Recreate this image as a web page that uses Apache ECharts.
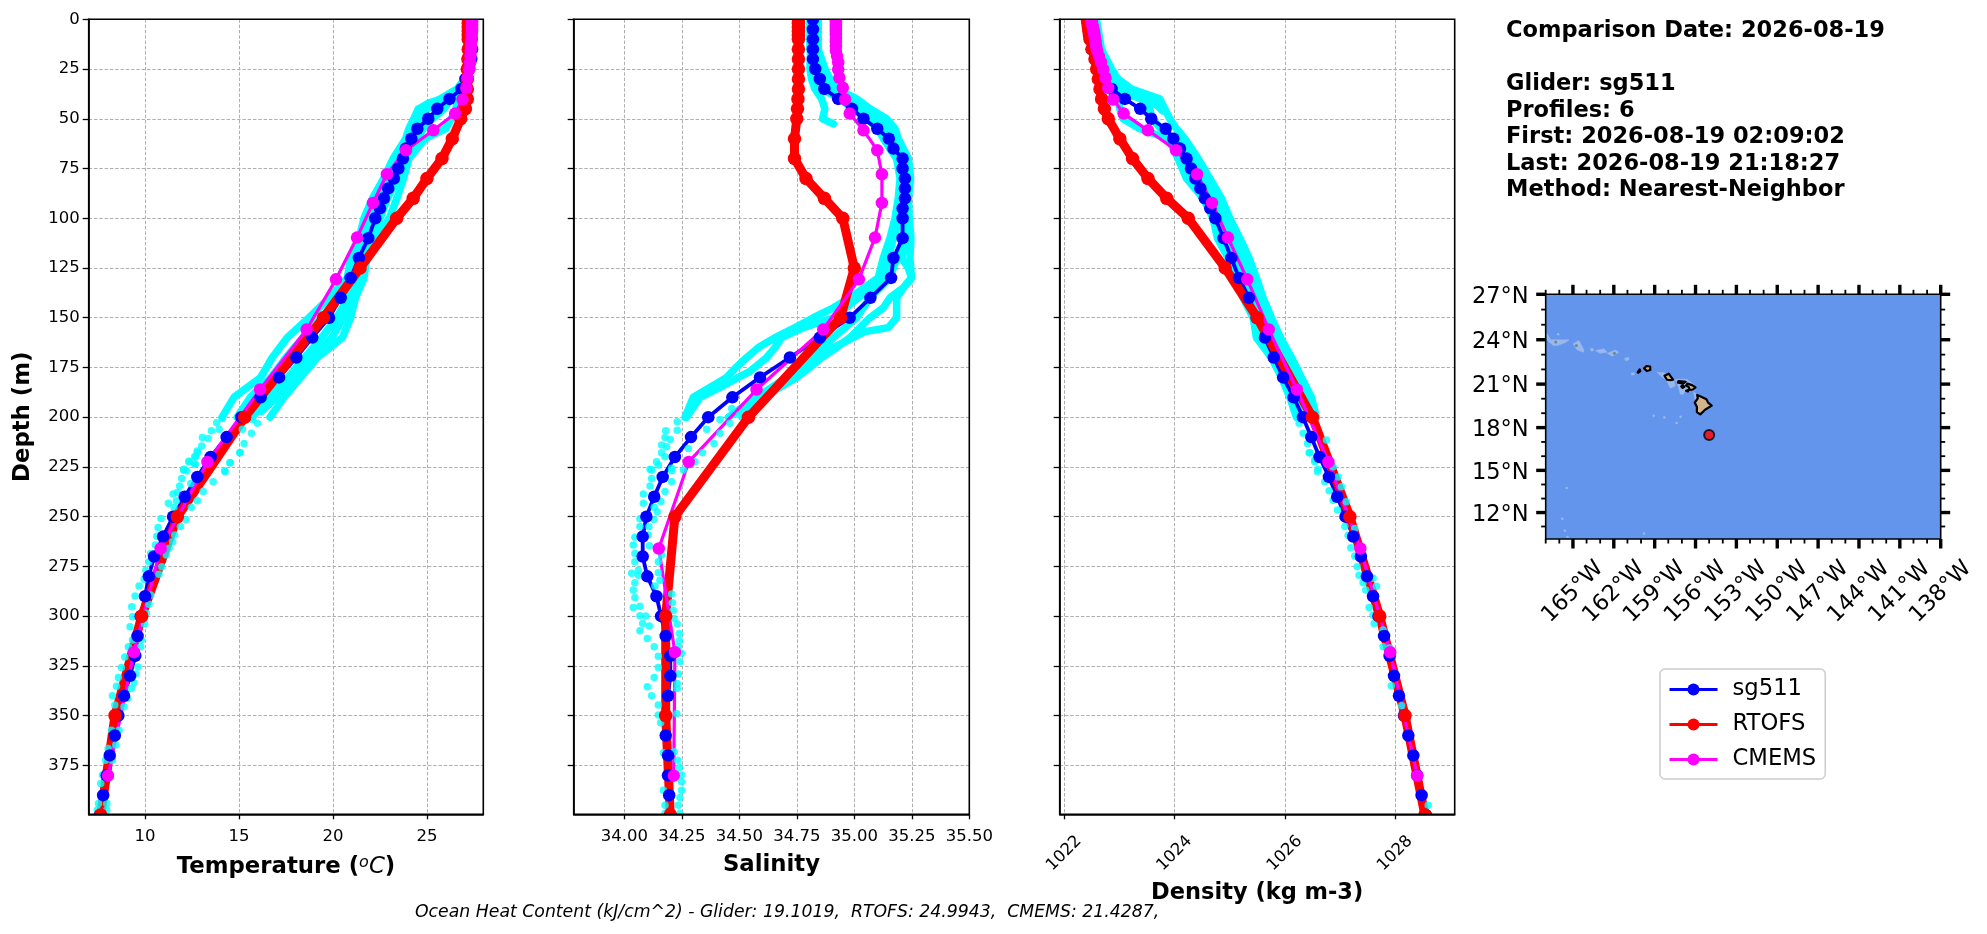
<!DOCTYPE html>
<html><head><meta charset="utf-8">
<style>html,body{margin:0;padding:0;background:#fff}#c{width:1987px;height:934px}</style>
<script src="https://cdn.jsdelivr.net/npm/echarts@6/dist/echarts.min.js"></script>
</head><body><div id="c"></div>
<script>
// ---------- tick labels ----------
const depthTicks = [0,25,50,75,100,125,150,175,200,225,250,275,300,325,350,375];
const tempTicks = [10,15,20,25];
const salTicks = [34,34.25,34.5,34.75,35,35.25,35.5];
const densTicks = [1022,1024,1026,1028];
const lonTicks = [-165,-162,-159,-156,-153,-150,-147,-144,-141,-138];
const lonMinor = [-167,-166,-164,-163,-161,-160,-158,-157,-155,-154,-152,-151,-149,-148,-146,-145,-143,-142,-140,-139];
const latTicks = [12,15,18,21,24,27];
const latMinor = [11,13,14,16,17,19,20,22,23,25,26];

// ---------- sg511 mean profile ----------
const gliderDepth = [0,5,10,15,20,25,30,35,40,45,50,55,60,65,70,75,80,85,90,95,100,110,120,130,140,150,160,170,180,190,200,210,220,230,240,250,260,270,280,290,300,310,320,330,340,350,360,370,380,390,400];
const gliderTemp = [27.38,27.38,27.38,27.4,27.36,27.25,27.05,26.84,26.2,25.55,25.07,24.49,24.17,23.88,23.72,23.48,23.24,22.94,22.71,22.5,22.25,21.88,21.38,20.94,20.41,19.79,18.9,18.05,17.13,16.15,15.12,14.34,13.49,12.78,12.11,11.49,10.96,10.48,10.2,10.0,9.77,9.6,9.47,9.2,8.88,8.58,8.39,8.12,7.96,7.77,7.6];
const gliderSal = [34.82,34.82,34.82,34.82,34.82,34.83,34.85,34.87,34.93,34.99,35.04,35.1,35.15,35.17,35.21,35.21,35.22,35.22,35.22,35.21,35.21,35.21,35.17,35.16,35.07,34.98,34.85,34.72,34.59,34.47,34.365,34.29,34.22,34.167,34.13,34.096,34.08,34.08,34.1,34.14,34.16,34.18,34.2,34.2,34.19,34.18,34.18,34.19,34.19,34.195,34.2];
const gliderDens = [1022.42,1022.45,1022.48,1022.5,1022.56,1022.65,1022.74,1022.86,1023.1,1023.38,1023.58,1023.84,1023.98,1024.1,1024.22,1024.3,1024.38,1024.47,1024.55,1024.65,1024.74,1024.89,1025.03,1025.17,1025.35,1025.49,1025.64,1025.8,1025.97,1026.16,1026.33,1026.48,1026.63,1026.8,1026.95,1027.1,1027.24,1027.38,1027.49,1027.6,1027.7,1027.8,1027.9,1027.98,1028.07,1028.16,1028.24,1028.33,1028.4,1028.48,1028.56];

// ---------- RTOFS ----------
const rtofsDepth = [0,2,4,6,8,10,15,20,25,30,35,40,45,50,60,70,80,90,100,125,150,200,250,300,350,400];
const rtofsTemp = [27.2,27.2,27.2,27.2,27.2,27.2,27.2,27.18,27.15,27.15,27.15,27.15,27.05,26.8,26.35,25.8,25.0,24.27,23.39,21.44,19.49,15.3,11.72,9.82,8.4,7.64];
const rtofsSal = [34.757,34.757,34.757,34.757,34.757,34.757,34.757,34.757,34.757,34.757,34.757,34.755,34.753,34.75,34.74,34.74,34.79,34.87,34.95,35.0,34.94,34.54,34.22,34.18,34.18,34.2];
const rtofsDens = [1022.42,1022.43,1022.44,1022.45,1022.46,1022.47,1022.51,1022.56,1022.59,1022.62,1022.65,1022.68,1022.73,1022.8,1023.01,1023.24,1023.52,1023.86,1024.25,1024.92,1025.5,1026.5,1027.18,1027.72,1028.18,1028.54];

// ---------- CMEMS ----------
const cmemsDepth = [0.5,1.5,2.6,3.8,5,6.4,7.9,9.6,11.4,13.5,15.8,18.5,21.6,25.2,29.4,34.4,40.3,47.4,55.8,65.8,77.9,92.3,109.7,130.7,155.9,186.1,222.5,266,318.1,380.2];
const cmemsTemp = [27.4,27.4,27.4,27.4,27.4,27.4,27.38,27.38,27.36,27.35,27.33,27.32,27.3,27.25,27.17,27.1,26.9,26.5,25.34,23.88,22.87,22.13,21.28,20.16,18.6,16.12,13.32,10.83,9.41,8.03];
const cmemsSal = [34.92,34.92,34.92,34.92,34.92,34.92,34.92,34.92,34.92,34.92,34.92,34.925,34.93,34.93,34.935,34.95,34.96,34.98,35.04,35.1,35.12,35.12,35.09,35.02,34.865,34.575,34.28,34.15,34.22,34.215];
const cmemsDens = [1022.5,1022.5,1022.51,1022.52,1022.53,1022.54,1022.55,1022.56,1022.57,1022.58,1022.6,1022.63,1022.67,1022.71,1022.75,1022.8,1022.89,1023.08,1023.52,1024.03,1024.41,1024.68,1024.97,1025.32,1025.71,1026.22,1026.79,1027.37,1027.91,1028.4];

// ---------- individual glider profiles, upper 200 m ----------
const cyanDepth = [0,15,25,30,35,40,45,50,55,60,70,80,90,100,110,120,130,140,150,160,170,180,190,200];
const tempTrack1 = [27.3,27.2,27.15,27.0,26.6,25.7,24.54,24.3,24.04,23.87,23.2,22.7,22.1,21.65,21.4,20.95,20.76,19.8,18.72,17.57,16.77,16.15,14.73,14.1];
const tempTrack2 = [27.35,27.3,27.2,27.1,26.8,26.0,25.0,24.7,24.4,24.1,23.5,23.0,22.4,21.9,21.6,21.2,21.0,20.3,19.4,18.4,17.5,16.7,15.6,14.9];
const tempTrack3 = [27.4,27.4,27.25,27.15,26.9,26.3,25.9,25.3,24.8,24.5,23.8,23.4,22.9,22.5,21.9,21.5,21.3,20.8,20.2,19.4,18.5,17.6,16.6,15.7];
const tempTrack4 = [27.45,27.45,27.3,27.2,27.0,26.6,26.55,26.3,26.0,24.9,24.04,23.75,23.4,23.0,22.2,21.8,21.65,21.2,20.94,20.5,19.17,18.28,17.39,16.65];
const tempDepth5 = [38,40,42,44,46,48];
const tempTrack5 = [26.4,25.95,25.1,24.75,24.6,24.5];
const tempDepth6 = [130,140,150,160,170,180,190,197];
const tempTrack6 = [21.45,21.0,20.55,19.95,18.9,18.0,17.0,16.2];

const salDepth1 = [0,15,25,30,35,40,45,50,55,60,70,80,90,100,110,120,130,135,140,150,155,157,165,175,180,190,200];
const salTrack1 = [34.843,34.843,34.872,34.894,34.923,35.01,35.068,35.14,35.177,35.191,35.235,35.245,35.235,35.239,35.246,35.242,35.249,35.213,35.184,35.184,35.148,35.046,34.909,34.8,34.72,34.604,34.517];
const salDepth2 = [0,15,25,30,35,40,45,50,55,60,70,80,90,100,110,120,130,140,145,150,155,160,165,170,175,180,185,190,200];
const salTrack2 = [34.807,34.807,34.822,34.829,34.858,34.938,34.996,35.054,35.104,35.126,35.184,35.199,35.191,35.177,35.155,35.126,35.104,34.981,34.909,34.822,34.742,34.655,34.583,34.532,34.486,34.445,34.372,34.3,34.264];
const salDepth3 = [0,15,25,30,35,40,45,50,55,60,70,80,90,100,110,120,130,140,150,155,160,165,170,177,180,185,190,200];
const salTrack3 = [34.822,34.822,34.836,34.858,34.88,34.952,35.017,35.075,35.126,35.155,35.206,35.216,35.213,35.199,35.17,35.148,35.126,35.017,34.909,34.778,34.684,34.655,34.619,34.546,34.496,34.416,34.329,34.271];
const salDepth4 = [0,15,25,30,35,40,45,50,55,60,70,80,90,100,110,120,125,130,135,140,145,150,155,160,165,170,175,180,190,200];
const salTrack4 = [34.836,34.836,34.854,34.88,34.909,34.988,35.046,35.119,35.155,35.177,35.225,35.235,35.225,35.23,35.228,35.206,35.235,35.249,35.213,35.155,35.126,35.068,35.025,34.981,34.923,34.858,34.807,34.749,34.604,34.517];
const salTrack5 = [34.829,34.829,34.843,34.872,34.894,34.967,35.032,35.097,35.14,35.17,35.213,35.228,35.22,35.22,35.213,35.184,35.155,35.068,35.01,34.909,34.822,34.706,34.575,34.452];
const salDepth6 = [0,15,25,30,35,40,45,50,52.6];
const salTrack6 = [34.81,34.81,34.807,34.814,34.829,34.858,34.872,34.862,34.909];

const densTrack1 = [1022.465,1022.526,1022.647,1022.707,1022.798,1022.979,1023.009,1023.069,1023.372,1023.885,1024.066,1024.218,1024.52,1024.7,1024.779,1024.973,1025.154,1025.245,1025.426,1025.486,1025.758,1025.94,1026.091,1026.212];
const densTrack2 = [1022.52,1022.6,1022.75,1022.85,1023.0,1023.45,1023.55,1023.6,1023.75,1024.0,1024.25,1024.45,1024.7,1024.85,1024.98,1025.17,1025.32,1025.43,1025.6,1025.72,1025.95,1026.12,1026.3,1026.4];
const densTrack3 = [1022.586,1022.677,1022.858,1022.979,1023.221,1023.734,1023.825,1023.915,1024.036,1024.187,1024.429,1024.64,1024.852,1025.003,1025.184,1025.353,1025.486,1025.607,1025.758,1025.921,1026.121,1026.302,1026.483,1026.574];
const densDepth4 = [36,38,39,41,43,46];
const densTrack4 = [1023.0,1023.15,1023.3,1023.5,1023.68,1023.78];
const densDepth5 = [60,70,80,90,100,110,120,130,140,150,160,170,180,190,197];
const densTrack5 = [1023.95,1024.15,1024.33,1024.6,1024.78,1024.92,1025.07,1025.23,1025.34,1025.52,1025.6,1025.85,1026.03,1026.2,1026.3];
const densDepth6 = [60,70,80,90,100,110,120,130,140,150,160,170,180,190,197];
const densTrack6 = [1024.1,1024.35,1024.55,1024.78,1024.93,1025.08,1025.26,1025.4,1025.52,1025.68,1025.83,1026.05,1026.22,1026.4,1026.47];

// ---------- individual glider samples, separate dots below ~200 m ----------
const tempDotT = [13.81,13.53,13.05,13.35,13.01,12.78,12.7,12.34,12.66,12.07,14.11,13.94,15.18,15.66,15.27,15.05,15.98,15.71,16.28,14.52,14.24,15.05,12.78,12.64,12.34,12.66,14.52,14.26,12.04,12.22,11.95,11.84,13.62,12.43,11.49,11.72,13.09,11.67,11.24,12.78,11.54,12.46,10.85,12.18,10.69,11.88,10.62,11.58,10.55,11.47,10.3,11.28,11.13,10.21,10.04,10.89,9.95,10.74,9.68,9.47,10.3,9.29,10.21,9.34,10.07,9.2,9.98,9.33,9.77,9.11,9.8,8.92,9.63,8.74,9.63,8.58,9.5,8.48,9.41,9.27,8.26,9.06,8.39,8.88,8.21,8.62,8.03,8.44,7.89,8.26,7.73,7.64,7.52,7.96,7.46,7.96];
const tempDotD = [202.8,206.8,210.2,210.7,214.5,217.9,219.9,222.2,223.6,226.2,200.6,206.1,206.1,208.1,213.2,217.7,203.1,201.1,196.1,222.9,226.9,217.9,217,219.9,222.4,223.6,222.9,227.4,226.6,227.1,230.8,234.6,232.4,233.3,238.6,237.9,237.4,242,243.3,242,245.3,245.3,250.9,251.4,255.4,255,259.8,259.2,264.3,262.6,268.5,265.9,269.3,272.7,276.9,275.2,281.5,278.9,284.9,289.9,289.4,295.3,294,300.3,298.6,305.3,304,312,315.4,315.4,312,320.5,319.6,325.8,325.5,330.8,329.1,335.2,333.5,336.4,340,341.4,344.7,345.6,357.3,357.3,366.5,364.8,372.4,372.4,379.9,384.1,394.2,394.2,397.5,397.5];
const salDotS = [34.23,34.18,34.23,34.177,34.2,34.162,34.184,34.162,34.177,34.14,34.148,34.112,34.206,34.416,34.459,34.5,34.467,34.416,34.39,34.34,34.278,34.358,34.307,34.257,34.119,34.206,34.119,34.206,34.112,34.177,34.083,34.159,34.083,34.13,34.143,34.068,34.129,34.068,34.107,34.046,34.104,34.039,34.109,34.046,34.162,34.046,34.148,34.061,34.148,34.032,34.061,34.155,34.046,34.039,34.133,34.206,34.046,34.209,34.039,34.068,34.213,34.068,34.093,34.216,34.08,34.109,34.23,34.068,34.239,34.1,34.239,34.13,34.235,34.249,34.148,34.242,34.148,34.235,34.13,34.23,34.1,34.119,34.23,34.148,34.148,34.158,34.228,34.17,34.217,34.232,34.239,34.249,34.249,34.249,34.17,34.242,34.235,34.177,34.242,34.177];
const salDotD = [202.3,206.8,206.5,210.2,211.2,214,214.8,217.9,219.9,222.4,224,226.2,225.7,201.1,203.1,198.9,195.6,208.1,213.2,217.9,215.7,206.1,222.4,226.6,226.6,226.9,230.8,232.4,234.6,237.4,238.6,242.4,243.3,245.3,247.5,251,251.4,255,255.1,260.4,259.2,264.3,264.6,268.5,269.3,272.7,272.7,276.9,278.2,278.5,279.4,281.9,283.2,286.9,284.9,288.9,290.6,293.3,295.6,295,297.2,299.8,299.9,301.2,303.7,305,304,307.3,308.7,311.2,312.4,315.4,315.4,318.7,320.1,322.9,325.8,329.1,330.8,333.8,335.5,340,336.4,344.7,349.7,353.6,349,368.7,368.2,372.4,376.1,379.9,383.3,387.5,387.5,391.2,395,395,399.2,399.2];
const densDotR = [1026.26,1026.332,1026.411,1026.453,1026.544,1026.604,1026.441,1026.544,1026.592,1026.725,1026.804,1026.876,1026.955,1027.088,1027.148,1027.196,1027.269,1027.311,1027.347,1027.42,1027.468,1027.529,1027.601,1027.619,1027.782,1026.755,1026.876,1026.967,1027.027,1027.118,1027.269,1027.601,1027.661,1027.782,1027.903,1027.93,1028.12,1028.6];
const densDotD = [203.1,208.1,213.2,217.9,222.4,226.2,217.9,221.4,227.4,232.4,237,241.7,246.7,254.8,259.3,265.6,269.8,275.2,279.4,283.2,286.9,295.6,299.5,303.7,315.4,211.5,224.9,230,235,242.5,256,281,285,307,316,335,345,395];

// ---------- map ----------
const gliderLon = [-155];
const gliderLat = [17.49];
const landPolys = [
 [[-155.88,20.26],[-155.58,20.13],[-155.2,19.96],[-155.08,19.73],[-154.81,19.52],[-155.3,19.24],[-155.65,18.92],[-155.9,19.08],[-155.9,19.45],[-156.06,19.73],[-155.83,20.03]],
 [[-156.7,20.9],[-156.6,21.03],[-156.25,20.93],[-156.0,20.78],[-156.2,20.63],[-156.42,20.6],[-156.5,20.8]],
 [[-157.3,21.1],[-157.25,21.21],[-156.85,21.17],[-156.72,21.15],[-156.9,21.05]],
 [[-157.05,20.85],[-156.95,20.93],[-156.82,20.82],[-156.95,20.74]],
 [[-156.7,20.55],[-156.55,20.6],[-156.55,20.5]],
 [[-158.28,21.57],[-157.97,21.71],[-157.65,21.3],[-157.85,21.27],[-158.1,21.3]],
 [[-159.78,22.07],[-159.6,22.23],[-159.33,22.2],[-159.32,21.96],[-159.58,21.89]],
 [[-160.25,21.8],[-160.1,22.0],[-160.05,21.88],[-160.2,21.78]]
];
const shelfPolys = [
 [[-166.92,24.45],[-166.63,24.0],[-166.14,24.0],[-165.29,24.0],[-165.53,23.82],[-166.14,23.61],[-166.43,23.61],[-166.75,23.84],[-166.92,24.07]],
 [[-165.0,23.73],[-164.56,23.95],[-164.19,23.32],[-164.24,23.16],[-164.68,23.32]],
 [[-163.7,23.43],[-163.5,23.4],[-163.5,23.25],[-163.7,23.25]],
 [[-163.34,23.27],[-162.73,23.39],[-162.48,23.16],[-163.02,23.09]],
 [[-162.48,23.09],[-161.87,23.32],[-161.63,23.16],[-162.12,22.89]],
 [[-161.2,22.75],[-160.9,22.82],[-160.9,22.64],[-161.14,22.59]],
 [[-158.83,21.79],[-158.34,21.79],[-157.61,21.33],[-157.49,20.88],[-157.85,20.72],[-158.1,21.22]],
 [[-157.49,21.33],[-156.63,21.33],[-156.14,20.99],[-156.02,20.58],[-156.75,20.58],[-156.88,20.31],[-157.12,20.31],[-157.24,20.76]],
 [[-156.15,20.5],[-155.78,20.2],[-156.02,19.85]],
 [[-160.7,21.75],[-160.5,21.78],[-160.5,21.62],[-160.7,21.62]]
];
const shelfDotLon = [-166.09,-159.07,-158.29,-157.1,-157.39,-165.46,-165.78,-165.6,-165.4,-159.78];
const shelfDotLat = [24.36,18.82,18.71,18.75,18.32,13.75,11.55,10.7,10.25,10.5];
const reefLon = [-166.26,-164.75,-161.95];
const reefLat = [23.84,23.61,23.09];

// ---------- texts ----------
const infoText = 'Comparison Date: 2026-08-19\n\nGlider: sg511\nProfiles: 6\nFirst: 2026-08-19 02:09:02\nLast: 2026-08-19 21:18:27\nMethod: Nearest-Neighbor';
const footerText = 'Ocean Heat Content (kJ/cm^2) - Glider: 19.1019,  RTOFS: 24.9943,  CMEMS: 21.4287,';

// ---------- helpers and layout ----------
const FONT = '"DejaVu Sans"';
const BLUE='#0000ff', RED='#ff0000', MAG='#ff00ff', CY='#00ffff';
const merc = lat => Math.log(Math.tan(Math.PI/4 + lat*Math.PI/360)) * 180/Math.PI;
const invMerc = m => (2*Math.atan(Math.exp(m*Math.PI/180)) - Math.PI/2) * 180/Math.PI;
const zip = (xs, ys) => xs.map((x,i)=>[x, ys[i]]);

const panels = [
 {left:88.7, width:394.6, min:7, max:28, ticks:tempTicks, fmt:v=>String(v), rotate:0, margin:14, gap:41, yLabels:true,
  name:'{b|Temperature (}{sup|o}{it|C}{b|)}',
  tracks:[[tempTrack1,cyanDepth],[tempTrack2,cyanDepth],[tempTrack3,cyanDepth],[tempTrack4,cyanDepth],[tempTrack5,tempDepth5],[tempTrack6,tempDepth6]], dots:[tempDotT,tempDotD],
  g:gliderTemp, r:rtofsTemp, c:cmemsTemp},
 {left:573.7, width:395.6, min:33.78, max:35.5, ticks:salTicks, fmt:v=>v.toFixed(2), rotate:0, margin:14, gap:39, yLabels:false,
  name:'{b|Salinity}',
  tracks:[[salTrack1,salDepth1],[salTrack2,salDepth2],[salTrack3,salDepth3],[salTrack4,salDepth4],[salTrack5,cyanDepth],[salTrack6,salDepth6]], dots:[salDotS,salDotD],
  g:gliderSal, r:rtofsSal, c:cmemsSal},
 {left:1059.7, width:395, min:1021.92, max:1029.08, ticks:densTicks, fmt:v=>String(v), rotate:45, margin:39, gap:63, yLabels:false,
  name:'{d|Density (kg m-3)}',
  tracks:[[densTrack1,cyanDepth],[densTrack2,cyanDepth],[densTrack3,cyanDepth],[densTrack4,densDepth4],[densTrack5,densDepth5],[densTrack6,densDepth6]], dots:[densDotR,densDotD],
  g:gliderDens, r:rtofsDens, c:cmemsDens}
];
const TOP=19.3, H=795, DEPTHMAX=399.6;
const MAP={left:1545.7, top:294.3, width:395, height:244.7};
const noSplit={show:false};

const grids=[], xAxes=[], yAxes=[], series=[], masks=[];
panels.forEach((p,i)=>{
  grids.push({left:p.left, top:TOP, width:p.width, height:H, show:true, z:10, backgroundColor:'transparent', borderColor:'#000', borderWidth:1.6});
  const gi=i, xu=xAxes.length, yu=yAxes.length;
  xAxes.push({type:'value', gridIndex:gi, min:p.min, max:p.max, z:0, axisLine:{show:false}, axisLabel:{show:false},
    axisTick:{show:false, customValues:p.ticks}, splitLine:{show:true, lineStyle:{color:'#b0b0b0', type:[3.5,1.8], width:1}}});
  yAxes.push({type:'value', gridIndex:gi, inverse:true, min:0, max:DEPTHMAX, z:0, axisLine:{show:false}, axisLabel:{show:false},
    axisTick:{show:false, customValues:depthTicks}, splitLine:{show:true, lineStyle:{color:'#b0b0b0', type:[3.5,1.8], width:1}}});
  const xRich={b:{fontFamily:FONT,fontWeight:'bold',fontSize:22.8,color:'#000'},
               d:{fontFamily:FONT,fontWeight:'bold',fontSize:22.5,color:'#000'},
               sup:{fontFamily:FONT,fontStyle:'italic',fontSize:16,color:'#000',verticalAlign:'top',padding:[0,0,6,0]},
               it:{fontFamily:FONT,fontStyle:'italic',fontSize:22.8,color:'#000'}};
  const lblExtra = p.rotate ? {rotate:p.rotate, align:'center', verticalAlign:'middle'} : {};
  xAxes.push({type:'value', gridIndex:gi, min:p.min, max:p.max, z:10, position:'bottom',
    name:p.name, nameLocation:'middle', nameGap:p.gap, nameTextStyle:{rich:xRich},
    axisLine:{show:true,onZero:false,lineStyle:{color:'#000',width:1.6}},
    axisTick:{show:true,length:5,lineStyle:{color:'#000',width:1.3},customValues:p.ticks},
    axisLabel:Object.assign({show:true,margin:p.margin,fontFamily:FONT,fontSize:16.5,color:'#000',customValues:p.ticks,formatter:p.fmt,hideOverlap:false},lblExtra),
    splitLine:noSplit});
  yAxes.push(Object.assign({type:'value', gridIndex:gi, inverse:true, min:0, max:DEPTHMAX, z:10, position:'left',
    axisLine:{show:true,onZero:false,lineStyle:{color:'#000',width:1.6}},
    axisTick:{show:true,length:6,lineStyle:{color:'#000',width:1.3},customValues:depthTicks},
    axisLabel:{show:p.yLabels,margin:9,fontFamily:FONT,fontSize:16.5,color:'#000',customValues:depthTicks,hideOverlap:false},
    splitLine:noSplit}, p.yLabels?{name:'Depth (m)',nameLocation:'middle',nameGap:54,nameRotate:90,
      nameTextStyle:{fontFamily:FONT,fontWeight:'bold',fontSize:22.8,color:'#000'}}:{}));

  const base={xAxisIndex:xu,yAxisIndex:yu,clip:false,silent:true,animation:false,z:2};
  p.tracks.forEach(t=>series.push(Object.assign({},base,{type:'line',name:'glider profiles',data:zip(t[0],t[1]),showSymbol:false,symbol:'none',
    lineStyle:{color:CY,width:7.5,cap:'round',join:'round'},itemStyle:{color:CY}})));
  series.push(Object.assign({},base,{type:'scatter',name:'glider samples',data:zip(p.dots[0],p.dots[1]),symbolSize:7.5,itemStyle:{color:CY}}));
  series.push(Object.assign({},base,{type:'line',name:'sg511',data:zip(p.g,gliderDepth),symbol:'circle',symbolSize:12.5,showAllSymbol:true,
    lineStyle:{color:BLUE,width:3.8},itemStyle:{color:BLUE}}));
  series.push(Object.assign({},base,{type:'line',name:'RTOFS',data:zip(p.r,rtofsDepth),symbol:'circle',symbolSize:13.5,showAllSymbol:true,
    lineStyle:{color:RED,width:9},itemStyle:{color:RED}}));
  series.push(Object.assign({},base,{type:'line',name:'CMEMS',data:zip(p.c,cmemsDepth),symbol:'circle',symbolSize:12.5,showAllSymbol:true,
    lineStyle:{color:MAG,width:3.2},itemStyle:{color:MAG}}));
  masks.push({type:'rect',z:5,silent:true,shape:{x:p.left-1,y:TOP-8,width:p.width+2,height:8},style:{fill:'#fff'}});
  masks.push({type:'rect',z:5,silent:true,shape:{x:p.left-1,y:TOP+H,width:p.width+2,height:8},style:{fill:'#fff'}});
});

const mapBg=grids.length;
grids.push({left:MAP.left,top:MAP.top,width:MAP.width,height:MAP.height,show:true,z:0,backgroundColor:'#6495ed',borderWidth:0});
grids.push({left:MAP.left,top:MAP.top,width:MAP.width,height:MAP.height,show:true,z:10,backgroundColor:'transparent',borderColor:'#000',borderWidth:1.6});
const LON=[-167,-138], LAT=[merc(10.1),merc(27)];
const mapXBase=xAxes.length, mapYBase=yAxes.length;
xAxes.push({type:'value',gridIndex:mapBg,min:LON[0],max:LON[1],position:'bottom',z:10,
  axisLine:{show:false,onZero:false},splitLine:noSplit,axisTick:{show:false,customValues:lonTicks},
  axisLabel:{show:true,margin:53,rotate:45,align:'center',verticalAlign:'middle',fontFamily:FONT,fontSize:22.5,color:'#000',customValues:lonTicks,
    formatter:v=>Math.abs(Math.round(v))+'°W',hideOverlap:false}});
const latTickM=latTicks.map(merc);
yAxes.push({type:'value',gridIndex:mapBg,min:LAT[0],max:LAT[1],position:'left',z:10,
  axisLine:{show:false,onZero:false},splitLine:noSplit,axisTick:{show:false,customValues:latTickM},
  axisLabel:{show:true,margin:17,color:'#000',customValues:latTickM,hideOverlap:false,
    formatter:v=>'{a|'+Math.round(invMerc(v))+'°N}',
    rich:{a:{fontFamily:FONT,fontSize:22.5,color:'#000',padding:[5,0,0,0]}}}});

// map frame ticks on all four sides, one series per side, placed through the map's own scales
const tickSide=(vals,side,len,w)=>({type:'custom',xAxisIndex:mapXBase,yAxisIndex:mapYBase,silent:true,animation:false,z:20,clip:false,
  data:vals.map((v,i)=>[side==='bottom'||side==='top'?v:(side==='left'?LON[0]:LON[1]),
                        side==='left'||side==='right'?merc(v):(side==='bottom'?LAT[0]:LAT[1])]),
  renderItem:(params,api)=>{
    const a=api.coord([api.value(0),api.value(1)]);
    const dx=side==='left'?-len:(side==='right'?len:0);
    const dy=side==='top'?-len:(side==='bottom'?len:0);
    return {type:'line',shape:{x1:a[0],y1:a[1],x2:a[0]+dx,y2:a[1]+dy},style:{stroke:'#000',lineWidth:w}};
  }});
const polySeries=(polys,fill,stroke,lw)=>({type:'custom',xAxisIndex:mapXBase,yAxisIndex:mapYBase,silent:true,animation:false,z:3,clip:true,
  data:polys.map((pl,i)=>[pl[0][0],merc(pl[0][1]),i]),
  renderItem:(params,api)=>{const pl=polys[api.value(2)];
    return {type:'polygon',shape:{points:pl.map(q=>api.coord([q[0],merc(q[1])]))},style:{fill,stroke,lineWidth:lw,lineJoin:'round'}};}});
const mapDots=(lo,la,size,color,extra)=>Object.assign({type:'scatter',xAxisIndex:mapXBase,yAxisIndex:mapYBase,silent:true,animation:false,z:3,
  data:lo.map((x,i)=>[x,merc(la[i])]),symbolSize:size,itemStyle:{color}},extra||{});
series.push(polySeries(shelfPolys,'#9bb8ea','#9bb8ea',0.5));
series.push(mapDots(shelfDotLon,shelfDotLat,2.5,'#a9c1ea'));
series.push(mapDots(reefLon,reefLat,3,'#667788'));
series.push(polySeries(landPolys,'#d2b48c','#000',2.2));
series.push(mapDots(gliderLon,gliderLat,10,RED,{z:4,itemStyle:{color:RED,borderColor:'#000',borderWidth:2}}));
series.push(tickSide(lonTicks,'bottom',9.5,3.4),tickSide(lonTicks,'top',9.5,3.4),tickSide(lonMinor,'bottom',4.5,1.8),tickSide(lonMinor,'top',4.5,1.8),
            tickSide(latTicks,'left',9.5,3.4),tickSide(latTicks,'right',9.5,3.4),tickSide(latMinor,'left',4.5,1.8),tickSide(latMinor,'right',4.5,1.8));

const chart=echarts.init(document.getElementById('c'),null,{renderer:'canvas'});
chart.setOption({
  animation:false, backgroundColor:'#fff',
  grid:grids, xAxis:xAxes, yAxis:yAxes, series:series,
  graphic:{elements:masks},
  title:[
    {text:infoText,left:1506,top:18,padding:0,textStyle:{fontFamily:FONT,fontWeight:'bold',fontSize:22.5,lineHeight:26.5,color:'#000'}},
    {text:footerText,left:415,top:904,padding:0,textStyle:{fontFamily:FONT,fontWeight:'normal',fontStyle:'italic',fontSize:17.3,color:'#000'}}
  ],
  legend:{data:['sg511','RTOFS','CMEMS'],orient:'vertical',left:1660,top:669,itemWidth:48,itemHeight:15,itemGap:12,
    padding:[9,9,8,8],backgroundColor:'#fff',borderColor:'#ccc',borderWidth:1.5,borderRadius:5,selectedMode:false,
    lineStyle:{width:3},
    textStyle:{fontFamily:FONT,fontSize:22.7,color:'#000',padding:[0,0,0,10]}}
});
</script></body></html>
